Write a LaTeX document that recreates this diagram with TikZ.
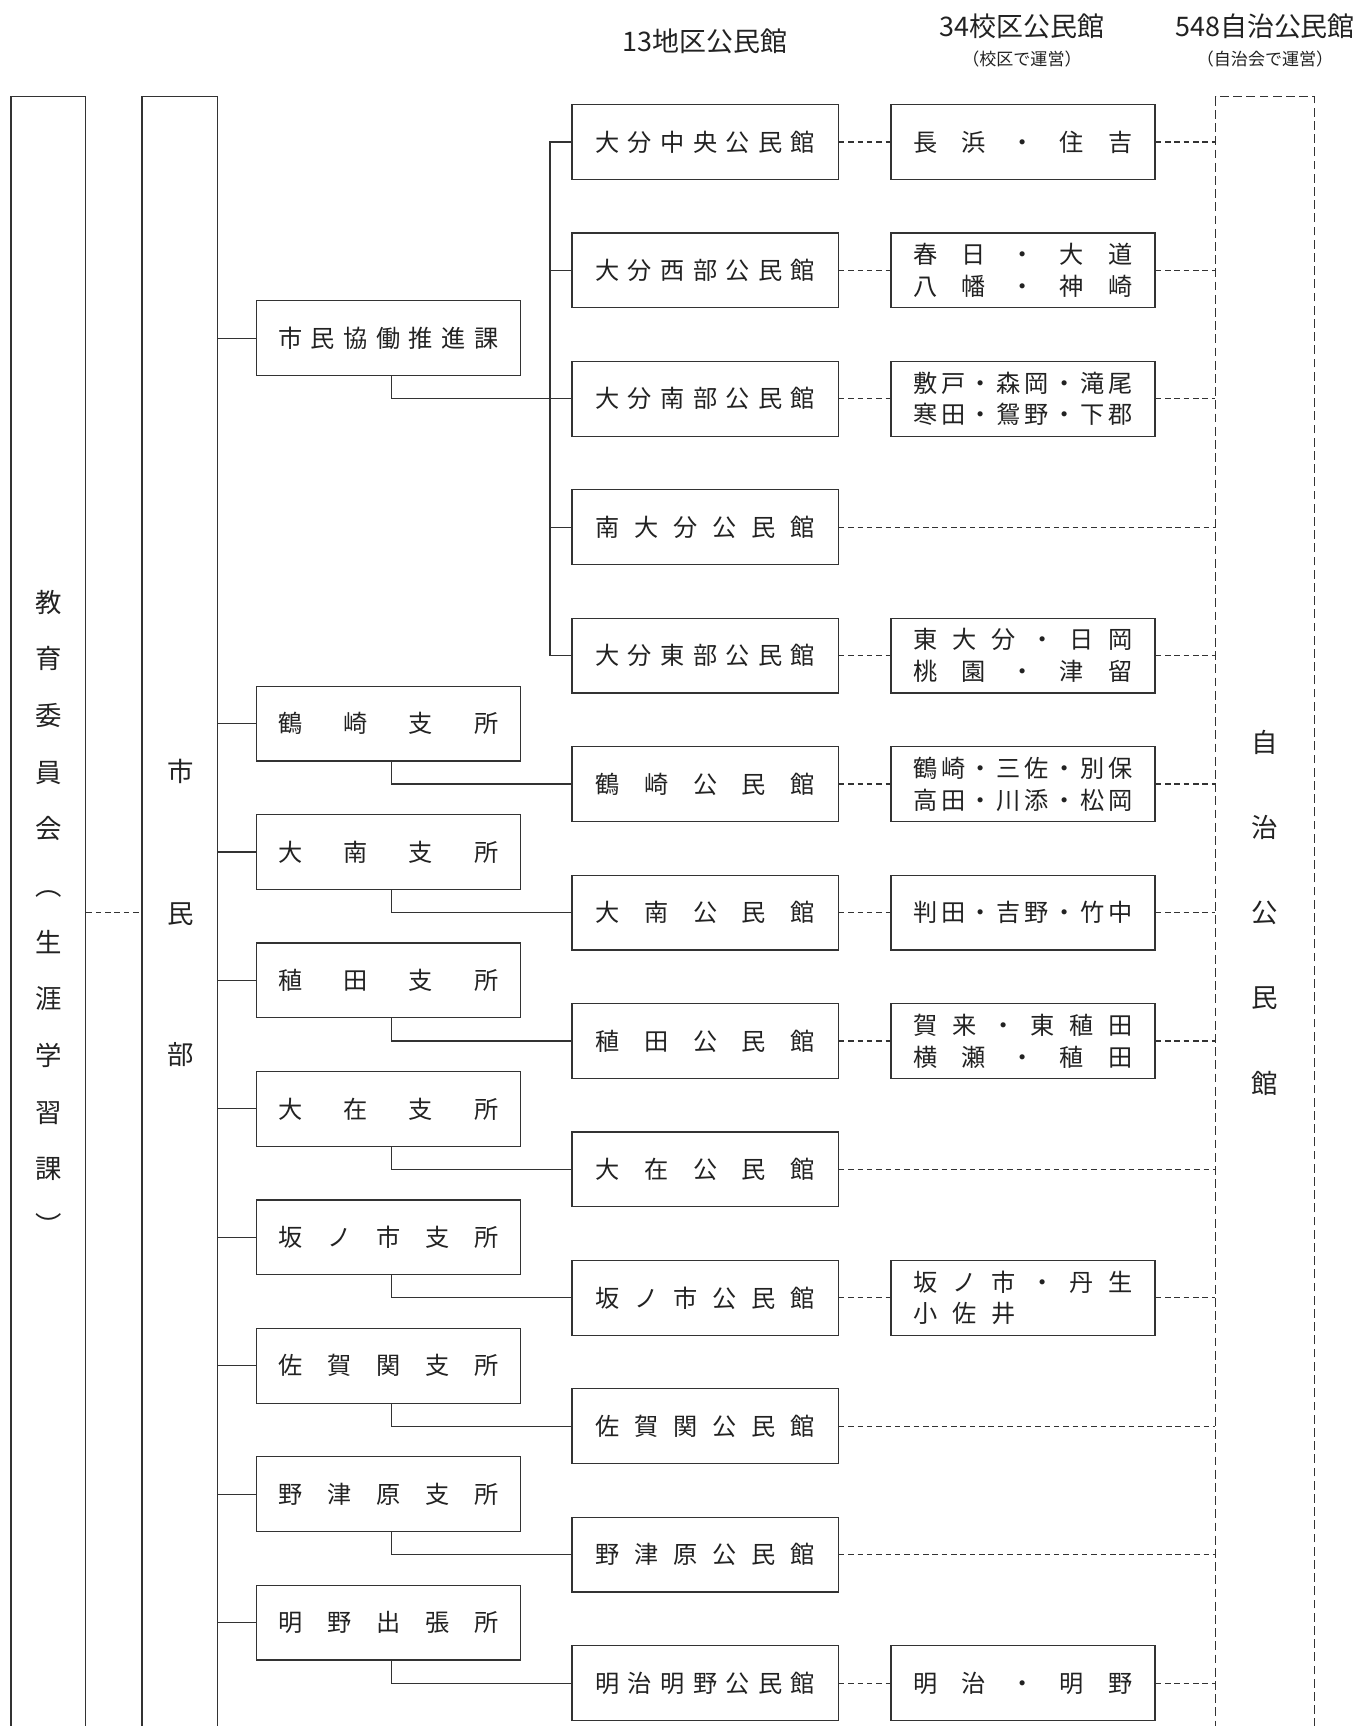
\documentclass[tikz,border=0pt]{standalone}
\usepackage{fontspec}
\setmainfont{Noto Sans CJK JP}
\usetikzlibrary{calc}
\definecolor{lc}{HTML}{333333}
\definecolor{tc}{HTML}{222222}
\newcommand\J[1]{\makebox[200pt][s]{#1}}
\begin{document}
\begin{tikzpicture}[x=1pt,y=-1pt,
  ln/.style={draw=lc, line width=1.1pt},
  dsh/.style={draw=lc, line width=1.1pt, dash pattern=on 5pt off 3.5pt},
  bx/.style={ln, minimum height=68pt, inner sep=0pt, font=\fontsize{22}{29}\selectfont, align=center, text=tc},
  bxa/.style={bx, minimum width=240pt},
  bxb/.style={bx, minimum width=242pt},
  col/.style={draw=lc, line width=1.1pt, minimum height=1512pt, inner sep=0pt},
  vtxt/.style={align=center, text=tc, inner sep=0pt},
  hd/.style={text=tc, inner sep=0pt, font=\fontsize{24.5}{27}\selectfont},
  hds/.style={text=tc, inner sep=0pt, font=\fontsize{15.5}{17}\selectfont},
]
\useasboundingbox (0,0) rectangle (1234,1569);

% headers
\node[hd] (h1) at (641,38) {13地区公民館};
\node[hd] (h2) at (929,24) {34校区公民館};
\node[hds] (h2s) at (929,54) {（校区で運営）};
\node[hd] (h3) at (1150,24) {548自治公民館};
\node[hds] (h3s) at (1150,54) {（自治会で運営）};

% columns
\node[col, minimum width=68pt] (kyo) at (44,844) {};
\node[col, minimum width=69pt] (mb) at (163.5,844) {};
\node[col, minimum width=90pt, dash pattern=on 8pt off 4pt] (jichi) at (1150,844) {};
\node[vtxt, font=\fontsize{24}{51.5}\selectfont] (kyot) at (44,829.75) {教\\育\\委\\員\\会\\︵\\生\\涯\\学\\習\\課\\︶};
\node[vtxt, font=\fontsize{24}{128.5}\selectfont] (mbt) at (164,830) {市\\民\\部};
\node[vtxt, font=\fontsize{24}{77.5}\selectfont] (jt) at (1150,829.5) {自\\治\\公\\民\\館};

% level 2
\node[bxa] (s2) at (353,307.5) {\J{市\hfill 民\hfill 協\hfill 働\hfill 推\hfill 進\hfill 課}};
\node[bxa] (s5) at (353,657.75) {\J{鶴\hfill 崎\hfill 支\hfill 所}};
\node[bxa] (s6) at (353,774.5) {\J{大\hfill 南\hfill 支\hfill 所}};
\node[bxa] (s7) at (353,891.25) {\J{稙\hfill 田\hfill 支\hfill 所}};
\node[bxa] (s8) at (353,1008) {\J{大\hfill 在\hfill 支\hfill 所}};
\node[bxa] (s9) at (353,1124.75) {\J{坂\hfill ノ\hfill 市\hfill 支\hfill 所}};
\node[bxa] (s10) at (353,1241.5) {\J{佐\hfill 賀\hfill 関\hfill 支\hfill 所}};
\node[bxa] (s11) at (353,1358.25) {\J{野\hfill 津\hfill 原\hfill 支\hfill 所}};
\node[bxa] (s12) at (353,1475) {\J{明\hfill 野\hfill 出\hfill 張\hfill 所}};

% level 3
\node[bxb] (c0) at (641,129) {\J{大\hfill 分\hfill 中\hfill 央\hfill 公\hfill 民\hfill 館}};
\node[bxb] (c1) at (641,245.75) {\J{大\hfill 分\hfill 西\hfill 部\hfill 公\hfill 民\hfill 館}};
\node[bxb] (c2) at (641,362.5) {\J{大\hfill 分\hfill 南\hfill 部\hfill 公\hfill 民\hfill 館}};
\node[bxb] (c3) at (641,479.25) {\J{南\hfill 大\hfill 分\hfill 公\hfill 民\hfill 館}};
\node[bxb] (c4) at (641,596) {\J{大\hfill 分\hfill 東\hfill 部\hfill 公\hfill 民\hfill 館}};
\node[bxb] (c5) at (641,712.75) {\J{鶴\hfill 崎\hfill 公\hfill 民\hfill 館}};
\node[bxb] (c6) at (641,829.5) {\J{大\hfill 南\hfill 公\hfill 民\hfill 館}};
\node[bxb] (c7) at (641,946.25) {\J{稙\hfill 田\hfill 公\hfill 民\hfill 館}};
\node[bxb] (c8) at (641,1063) {\J{大\hfill 在\hfill 公\hfill 民\hfill 館}};
\node[bxb] (c9) at (641,1179.75) {\J{坂\hfill ノ\hfill 市\hfill 公\hfill 民\hfill 館}};
\node[bxb] (c10) at (641,1296.5) {\J{佐\hfill 賀\hfill 関\hfill 公\hfill 民\hfill 館}};
\node[bxb] (c11) at (641,1413.25) {\J{野\hfill 津\hfill 原\hfill 公\hfill 民\hfill 館}};
\node[bxb] (c12) at (641,1530) {\J{明\hfill 治\hfill 明\hfill 野\hfill 公\hfill 民\hfill 館}};

% level 4
\node[bxa] (d0) at (930,129) {\J{長\hfill 浜\hfill ・\hfill 住\hfill 吉}};
\node[bxa] (d1) at (930,245.75) {\J{春\hfill 日\hfill ・\hfill 大\hfill 道}\\\J{八\hfill 幡\hfill ・\hfill 神\hfill 崎}};
\node[bxa] (d2) at (930,362.5) {\J{敷\hfill 戸\hfill ・\hfill 森\hfill 岡\hfill ・\hfill 滝\hfill 尾}\\\J{寒\hfill 田\hfill ・\hfill 鴛\hfill 野\hfill ・\hfill 下\hfill 郡}};
\node[bxa] (d4) at (930,596) {\J{東\hfill 大\hfill 分\hfill ・\hfill 日\hfill 岡}\\\J{桃\hfill 園\hfill ・\hfill 津\hfill 留}};
\node[bxa] (d5) at (930,712.75) {\J{鶴\hfill 崎\hfill ・\hfill 三\hfill 佐\hfill ・\hfill 別\hfill 保}\\\J{高\hfill 田\hfill ・\hfill 川\hfill 添\hfill ・\hfill 松\hfill 岡}};
\node[bxa] (d6) at (930,829.5) {\J{判\hfill 田\hfill ・\hfill 吉\hfill 野\hfill ・\hfill 竹\hfill 中}};
\node[bxa] (d7) at (930,946.25) {\J{賀\hfill 来\hfill ・\hfill 東\hfill 稙\hfill 田}\\\J{横\hfill 瀬\hfill ・\hfill 稙\hfill 田}};
\node[bxa] (d9) at (930,1179.75) {\J{坂\hfill ノ\hfill 市\hfill ・\hfill 丹\hfill 生}\\\makebox[200pt][l]{小\hspace{13.6pt}佐\hspace{13.6pt}井}};
\node[bxa] (d12) at (930,1530) {\J{明\hfill 治\hfill ・\hfill 明\hfill 野}};

% connectors
\coordinate (br) at (500,129);
\draw[dsh] (kyot -| kyo.east) -- (kyot -| mb.west);
\foreach \i in {2,5,6,7,8,9,10,11,12} {
  \draw[ln] (s\i.west -| mb.east) -- (s\i.west);
  \draw[ln] ([xshift=3pt]s\i.south) |- (c\i.west);
}
\draw[ln] (c0.west) -| (br |- c4.west) -- (c4.west);
\draw[ln] (c1.west) -- (c1.west -| br);
\draw[ln] (c3.west) -- (c3.west -| br);
\foreach \i in {0,1,2,4,5,6,7,9,12} {
  \draw[dsh] (c\i.east) -- (d\i.west);
  \draw[dsh] (d\i.east) -- (d\i.east -| jichi.west);
}
\foreach \i in {3,8,10,11} {
  \draw[dsh] (c\i.east) -- (c\i.east -| jichi.west);
}
\end{tikzpicture}
\end{document}
